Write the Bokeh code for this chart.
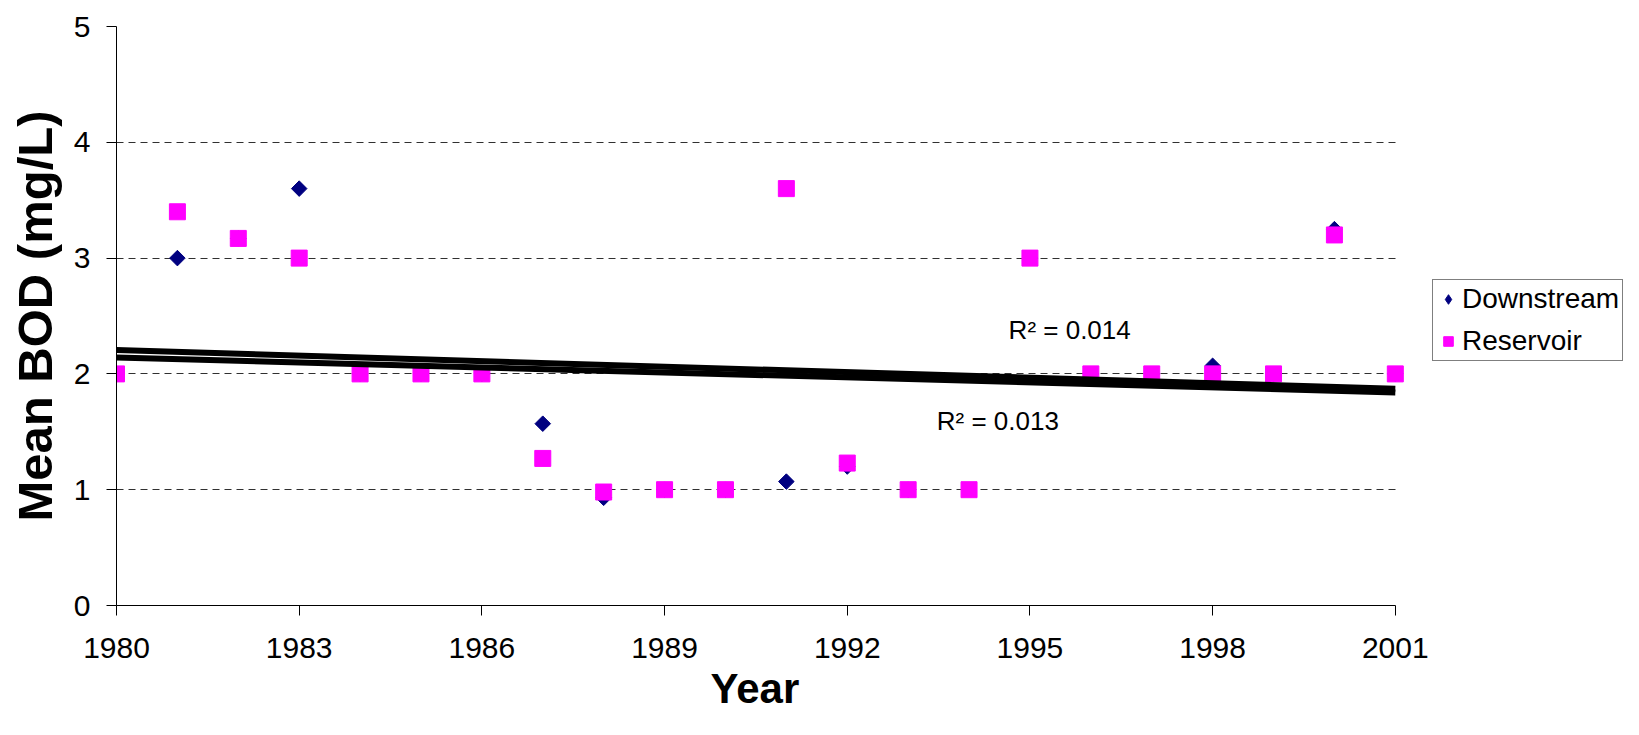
import numpy as np
from bokeh.plotting import figure
from bokeh.models import Legend, LegendItem, FixedTicker, Range1d, Label, Title
from bokeh.embed import file_html
from bokeh.resources import INLINE

# yearly mean BOD, mg/L
years = list(range(1980, 2002))
reservoir = [2.0, 3.4, 3.17, 3.0, 2.0, 2.0, 2.0, 1.27, 0.98, 1.0, 1.0,
             3.6, 1.23, 1.0, 1.0, 3.0, 2.0, 2.0, 2.0, 2.0, 3.2, 2.0]

down_years = [1980, 1981, 1982, 1983, 1984, 1985, 1986, 1987, 1988, 1989, 1990,
              1991, 1992, 1993, 1995, 1996, 1997, 1998, 1999, 2000, 2001]
downstream = [2.0, 3.0, 3.17, 3.6, 2.0, 2.0, 2.0, 1.57, 0.93, 1.0, 1.0,
              1.07, 1.2, 1.0, 3.0, 2.0, 2.0, 2.07, 2.0, 3.25, 2.0]

x_ticks = [1980, 1983, 1986, 1989, 1992, 1995, 1998, 2001]
y_ticks = [0, 1, 2, 3, 4, 5]
r2_labels = ["R\u00b2 = 0.014", "R\u00b2 = 0.013"]

FONT = "Liberation Sans"
NAVY = "#000080"
MAGENTA = "#FF00FF"

# the x range runs on past 2001 so the legend can sit inside the frame;
# axis and grid stop at 2001
p = figure(width=1625, height=719, output_backend="svg", toolbar_location=None,
           x_range=Range1d(1980, 2004.78), y_range=Range1d(0, 5),
           min_border_left=116, min_border_right=0, min_border_top=26,
           min_border_bottom=114)
p.outline_line_color = None

# axes
for ax in (p.xaxis[0], p.yaxis[0]):
    ax.axis_line_color = "black"
    ax.major_tick_line_color = "black"
    ax.minor_tick_line_color = None
    ax.major_tick_in = 0
    ax.major_tick_out = 10
    ax.major_label_text_font = FONT
    ax.major_label_text_font_size = "30px"
    ax.major_label_text_color = "black"
    ax.axis_label_text_font = FONT
    ax.axis_label_text_font_style = "bold"
    ax.axis_label_text_color = "black"

p.xaxis.bounds = (1980, 2001)
p.xaxis.ticker = FixedTicker(ticks=x_ticks)
p.xaxis.major_label_standoff = 22

p.yaxis.ticker = FixedTicker(ticks=y_ticks)
p.yaxis.major_label_standoff = 16
p.yaxis.axis_label = "Mean BOD (mg/L)"
p.yaxis.axis_label_text_font_size = "49px"
p.yaxis.axis_label_standoff = 9

# x title centred under 1980-2001 rather than under the whole frame
p.add_layout(Title(text="Year", align="left", offset=594, standoff=4,
                   text_font=FONT, text_font_size="42px",
                   text_font_style="bold", text_color="black"), "below")

p.xgrid.visible = False
p.ygrid.cross_bounds = (1980, 2001)
p.ygrid.grid_line_color = "#303030"
p.ygrid.grid_line_dash = "7 5"
p.ygrid.grid_line_width = 1

# points
p.scatter(down_years, downstream, marker="square", angle=np.pi / 4,
          size=11, fill_color=NAVY, line_color=NAVY)
r_r = p.scatter(years, reservoir, marker="square", size=16,
                fill_color=MAGENTA, line_color=MAGENTA)
# legend swatch for the diamonds (legend glyphs are never rotated)
d_key = p.scatter([np.nan], [np.nan], marker="diamond",
                  fill_color=NAVY, line_color=NAVY)

# linear trendlines
xs = np.array([1980, 2001])
for yrs, vals in ((years, reservoir), (down_years, downstream)):
    k, b = np.polyfit(yrs, vals, 1)
    p.line(xs, k * xs + b, line_color="black", line_width=6)

p.add_layout(Label(x=1994.65, y=2.25, text=r2_labels[0], text_font=FONT,
                   text_font_size="26px", text_color="black"))
p.add_layout(Label(x=1993.47, y=1.46, text=r2_labels[1], text_font=FONT,
                   text_font_size="26px", text_color="black"))

legend = Legend(items=[LegendItem(label="Downstream", renderers=[d_key]),
                       LegendItem(label="Reservoir", renderers=[r_r])],
                location=(1316, 244), orientation="vertical")
legend.label_text_font = FONT
legend.label_text_font_size = "28px"
legend.label_text_color = "black"
legend.label_standoff = 2
legend.label_height = 30
legend.glyph_width = 24
legend.glyph_height = 32
legend.spacing = 10
legend.padding = 3
legend.margin = 0
legend.border_line_color = "black"
legend.border_line_width = 1
p.add_layout(legend, "center")

open("out.html", "w").write(file_html(p, INLINE))
